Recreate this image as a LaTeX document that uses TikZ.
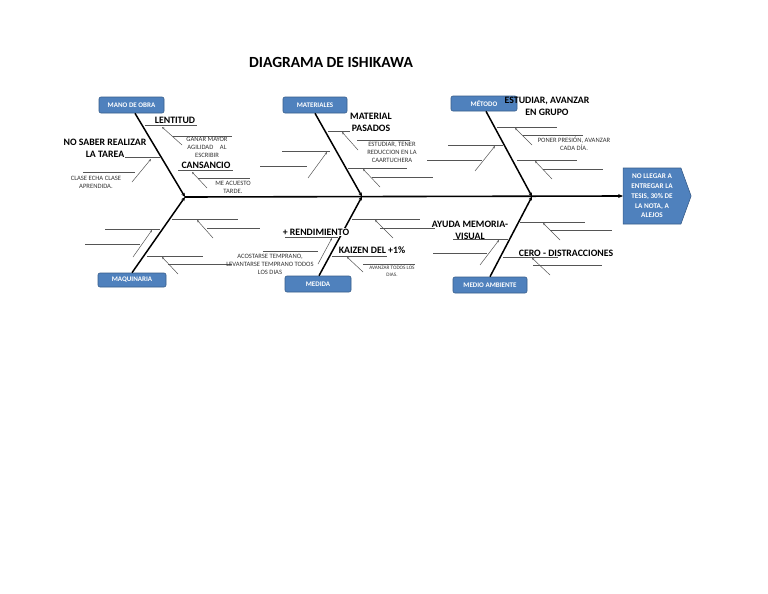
\documentclass[tikz,border=0pt]{standalone}
\usepackage{fontspec}
\setmainfont{Carlito}
\usetikzlibrary{arrows.meta,shapes.symbols}
\definecolor{boxblue}{HTML}{4F81BD}
\definecolor{boxedge}{HTML}{385D8A}
\definecolor{subgray}{HTML}{555555}
\begin{document}
\begin{tikzpicture}[x=1pt,y=-1pt,
  catbox/.style={rounded corners=2pt,fill=boxblue,draw=boxedge,line width=0.6pt,text=white,
    font=\fontsize{7}{7}\selectfont\bfseries,inner sep=0pt},
  bone/.style={line width=1.5pt,-{Stealth[length=4pt,width=3.5pt]}},
  spine/.style={line width=1.6pt,-{Stealth[length=5pt,width=4pt]}},
  subl/.style={line width=0.6pt,draw=subgray},
  arr/.style={line width=0.5pt,draw=subgray,-{Stealth[length=2.5pt,width=2pt]}},
  lbl/.style={font=\fontsize{9.8}{12}\selectfont\bfseries,align=center,inner sep=0pt},
  note/.style={font=\fontsize{6.6}{8}\selectfont,text=black!80,align=center,inner sep=0pt},
  tiny/.style={font=\fontsize{5.2}{7}\selectfont,text=black!80,align=center,inner sep=0pt}]
\useasboundingbox[fill=white] (0,0) rectangle (768,594);

\node[font=\fontsize{15.5}{17}\selectfont\bfseries] (title) at (331,62) {DIAGRAMA DE ISHIKAWA};

% category boxes
\node[catbox,minimum width=65,minimum height=16] (mo) at (131.5,105) {MANO DE OBRA};
\node[catbox,minimum width=64,minimum height=16] (mat) at (315,105) {MATERIALES};
\node[catbox,minimum width=66,minimum height=15] (met) at (484,103.5) {MÉTODO};
\node[catbox,minimum width=68,minimum height=14] (maq) at (132,280) {MAQUINARIA};
\node[catbox,minimum width=66,minimum height=16] (med) at (318,284) {MEDIDA};
\node[catbox,minimum width=74,minimum height=16] (ma) at (490,285) {MEDIO AMBIENTE};

% effect
\node[signal,signal to=east,signal pointer angle=140,fill=boxblue,draw=boxedge,line width=0.6pt,
  minimum width=68,minimum height=56,inner sep=0pt,outer sep=0pt,text=white,align=center,
  font=\fontsize{7.2}{9.8}\selectfont\bfseries] (eff) at (652,196)
  {NO LLEGAR A\\ENTREGAR LA\\TESIS, 30\% DE\\LA NOTA, A\\ALEJOS};

% junctions
\coordinate (j1) at (185,197);
\coordinate (j2) at (362,196.5);
\coordinate (j3) at (532,196.5);

% spine and bones
\draw[spine] (j1) -- (eff.west);
\draw[bone] ([xshift=3.5pt]mo.south) -- (j1);
\draw[bone] ([xshift=0pt]mat.south) -- (j2);
\draw[bone] ([xshift=2pt]met.south) -- (j3);
\draw[bone] ([xshift=0pt]maq.north) -- (j1);
\draw[bone] ([xshift=1pt]med.north) -- (j2);
\draw[bone] ([xshift=0pt]ma.north) -- (j3);

% ---- Mano de obra sub-causes
\draw[subl] (145,125) -- (197,125);
\draw[subl] (173,136) -- (232,136);
\draw[arr] (182,145) -- (162,127);
\draw[subl] (125,157) -- (160,157);
\draw[subl] (83,172) -- (135,172);
\draw[arr] (132,182) -- (151,159);
\draw[subl] (178,170) -- (233,170);
\draw[subl] (198,178) -- (250,178);
\draw[arr] (207,188) -- (192,172);

% ---- Materiales
\draw[subl] (328,131) -- (350,131);
\draw[subl] (357,140) -- (410,140);
\draw[arr] (358,150) -- (342,132);
\draw[subl] (282,151) -- (330,151);
\draw[subl] (260,166) -- (307,166);
\draw[arr] (308,178) -- (327,152);
\draw[subl] (348,168) -- (407,168);
\draw[subl] (372,177) -- (433,177);
\draw[arr] (380,187) -- (363,169);

% ---- Metodo
\draw[subl] (497,127) -- (557,127);
\draw[subl] (523,135) -- (583,135);
\draw[arr] (532,145) -- (515,128);
\draw[subl] (448,145) -- (503,145);
\draw[subl] (427,160) -- (482,160);
\draw[arr] (475,171) -- (495,146);
\draw[subl] (517,160) -- (577,160);
\draw[subl] (543,169) -- (603,169);
\draw[arr] (552,179) -- (535,161);

% ---- Maquinaria
\draw[subl] (172,219) -- (238,219);
\draw[subl] (207,228) -- (260,228);
\draw[arr] (213,238) -- (197,220);
\draw[subl] (105,229) -- (160,229);
\draw[subl] (85,244) -- (140,244);
\draw[arr] (133,257) -- (152,230);
\draw[subl] (147,256) -- (203,256);
\draw[subl] (168,264) -- (232,264);
\draw[arr] (178,274) -- (162,257);

% ---- Medida
\draw[subl] (352,219) -- (420,219);
\draw[subl] (380,228) -- (435,228);
\draw[arr] (393,238) -- (375,220);
\draw[subl] (285,237) -- (338,237);
\draw[subl] (263,251) -- (318,251);
\draw[arr] (318,264) -- (332,238);
\draw[subl] (332,256) -- (387,256);
\draw[subl] (363,264) -- (415,264);
\draw[arr] (363,272) -- (347,257);

% ---- Medio ambiente
\draw[subl] (520,222) -- (585,222);
\draw[subl] (550,230) -- (612,230);
\draw[arr] (560,240) -- (543,223);
\draw[subl] (453,239) -- (508,239);
\draw[subl] (433,253) -- (487,253);
\draw[arr] (480,265) -- (499,240);
\draw[subl] (503,257) -- (558,257);
\draw[subl] (533,265) -- (602,265);
\draw[arr] (550,275) -- (532,258);

% ---- labels
\node[lbl] (l1) at (175,120) {LENTITUD};
\node[lbl] (l2) at (105,148) {NO SABER REALIZAR\\LA TAREA};
\node[note] (n1) at (207,147) {GANAR MAYOR\\AGILIDAD\quad AL\\ESCRIBIR};
\node[lbl] (l3) at (206,165) {CANSANCIO};
\node[note] (n2) at (233,187) {ME ACUESTO\\TARDE.};
\node[note] (n3) at (96,182) {CLASE ECHA CLASE\\APRENDIDA.};
\node[lbl] (l4) at (371,122) {MATERIAL\\PASADOS};
\node[note] (n4) at (392,152) {ESTUDIAR, TENER\\REDUCCION EN LA\\CAARTUCHERA};
\node[lbl] (l5) at (547,106) {ESTUDIAR, AVANZAR\\EN GRUPO};
\node[note] (n5) at (574,143.5) {PONER PRESIÓN, AVANZAR\\CADA DÍA.};
\node[lbl,fill=white,inner sep=0.5pt] (l6) at (316,232) {+ RENDIMIENTO};
\node[note] (n6) at (270,264) {ACOSTARSE TEMPRANO,\\LEVANTARSE TEMPRANO TODOS\\LOS DIAS};
\node[lbl] (l7) at (372,250) {KAIZEN DEL +1\%};
\node[tiny] (n7) at (392,271.5) {AVANZAR TODOS LOS\\DIAS.};
\node[lbl] (l8) at (470,230) {AYUDA MEMORIA-\\VISUAL};
\node[lbl] (l9) at (566,253) {CERO - DISTRACCIONES};
\end{tikzpicture}
\end{document}
